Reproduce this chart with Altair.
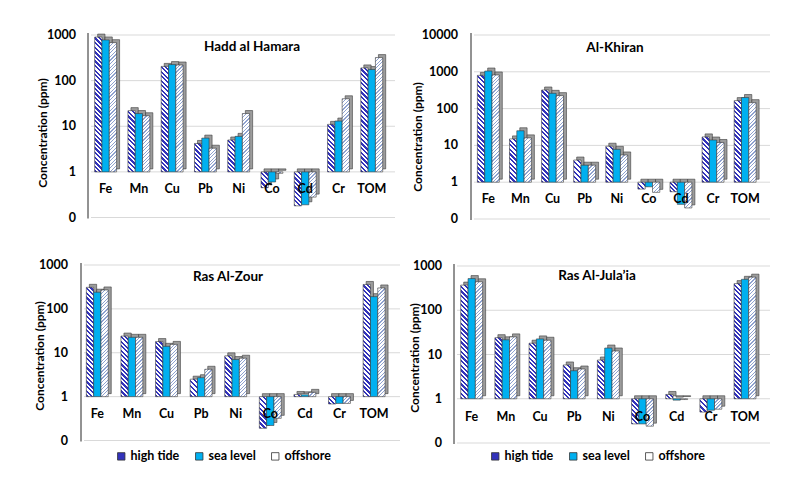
import math
import altair as alt

# ---------------- data ----------------
elements = ["Fe", "Mn", "Cu", "Pb", "Ni", "Co", "Cd", "Cr", "TOM"]
series = ["high tide", "sea level", "offshore"]

hadd_high = [900, 22, 205, 4.2, 5.0, 0.45, 0.18, 11, 190]
hadd_sea = [780, 19, 225, 5.5, 6.0, 0.60, 0.19, 13, 175]
hadd_off = [680, 17, 220, 3.3, 19, 0.93, 0.28, 40, 320]

khiran_high = [800, 15, 320, 4.0, 9.5, 0.65, 0.55, 17, 165]
khiran_sea = [1050, 25, 260, 2.9, 7.8, 0.75, 0.25, 14, 200]
khiran_off = [820, 16, 225, 2.9, 5.5, 0.53, 0.20, 12, 145]

zour_high = [310, 24, 18, 2.5, 8.5, 0.19, 1.12, 0.68, 360]
zour_sea = [240, 22.5, 14, 2.7, 7.0, 0.22, 1.10, 0.70, 190]
zour_off = [270, 22.5, 15.5, 4.2, 7.5, 0.32, 1.25, 0.70, 300]

julaia_high = [370, 24, 18, 5.8, 7.5, 0.27, 1.25, 0.50, 400]
julaia_sea = [520, 21.5, 22.5, 4.3, 14, 0.27, 0.93, 0.55, 500]
julaia_off = [440, 25, 21, 4.7, 12, 0.24, 0.96, 0.58, 560]

ticks_1000 = [0.1, 1, 10, 100, 1000]
labels_1000 = ["0", "1", "10", "100", "1000"]
ticks_10000 = [0.1, 1, 10, 100, 1000, 10000]
labels_10000 = ["0", "1", "10", "100", "1000", "10000"]

titles = ["Hadd al Hamara", "Al-Khiran", "Ras Al-Zour", "Ras Al-Jula\u2019ia"]
y_title = "Concentration (ppm)"

# ---------------- styles ----------------
FONT = "Lato"
HT = "#3333bb"
SL = "#00b0f0"
OFF = "#8fa2d0"
EDGE = "#3a3a3a"
SIDE = "#9c9c9c"
GRID = "#d9d9d9"
BW = 7.3

layout = [
    dict(ymax=1000, yr=(209.5, 27), xr=(81, 380.4), axis_x=80, grid_x2=387, xlab_y=181,
         ylab_x=68, yt=(35, 125), tp=(244, 39), legend=None),
    dict(ymax=10000, yr=(211, 27), xr=(464.3, 753.2), axis_x=463, grid_x2=762, xlab_y=191,
         ylab_x=450, yt=(410, 129), tp=(607, 40), legend=None),
    dict(ymax=1000, yr=(432.5, 257), xr=(72, 383.4), axis_x=73, grid_x2=392, xlab_y=406,
         ylab_x=60, yt=(32, 348), tp=(220, 269), legend=(107, 442)),
    dict(ymax=1000, yr=(435, 258), xr=(446.6, 754.1), axis_x=446, grid_x2=762, xlab_y=409,
         ylab_x=434, yt=(407, 350), tp=(589, 268), legend=(481, 442)),
]
panel_data = [
    (hadd_high, hadd_sea, hadd_off, ticks_1000, labels_1000),
    (khiran_high, khiran_sea, khiran_off, ticks_10000, labels_10000),
    (zour_high, zour_sea, zour_off, ticks_1000, labels_1000),
    (julaia_high, julaia_sea, julaia_off, ticks_1000, labels_1000),
]


def stripes(w, h, color, bg, period, frac, direction):
    h = max(h, 0.5)
    s = w / h
    k = (s + 1) / (s * s + 1)
    n = max(1, int(round((w + h) / period)))
    stops = []
    for i in range(n):
        a = round(i / n, 5)
        b = round((i + frac) / n, 5)
        c = round((i + 1) / n, 5)
        stops += [{"offset": a, "color": color}, {"offset": b, "color": color},
                  {"offset": b, "color": bg}, {"offset": c, "color": bg}]
    if direction == "back":
        return {"gradient": "linear", "x1": 0, "y1": 1, "x2": round(k * s, 5),
                "y2": round(1 - k, 5), "stops": stops}
    return {"gradient": "linear", "x1": 0, "y1": 0, "x2": round(k * s, 5),
            "y2": round(k, 5), "stops": stops}


def text_layer(txt, x, y, size, angle=0):
    return alt.Chart(alt.Data(values=[{"t": txt}])).mark_text(
        font=FONT, fontWeight="bold", fontSize=size, color="#000000",
        align="center", baseline="middle", angle=angle
    ).encode(x=alt.value(x), y=alt.value(y), text="t:N")


def make_panel(idx):
    cfg = layout[idx]
    high, sea, off, ticks, tlabels = panel_data[idx]
    ybot, ytop = cfg["yr"]
    x0, x1 = cfg["xr"]
    ymax = cfg["ymax"]
    dec = (ybot - ytop) / (math.log10(ymax) + 1)
    S = (x1 - x0) / len(elements)
    po2 = (S / BW - 3) / 2

    recs = []
    for j, vals in enumerate([high, sea, off]):
        for i, el in enumerate(elements):
            v = vals[i]
            h = abs(math.log10(v)) * dec
            if j == 0:
                f = stripes(BW, h, HT, "#ffffff", 4.6, 0.5, "back")
            elif j == 1:
                f = SL
            else:
                f = stripes(BW, h, OFF, "#ffffff", 3.6, 0.35, "fwd")
            recs.append({"element": el, "series": series[j], "value": v, "base": 1, "fill": f})
    bar_data = alt.Data(values=recs)
    tick_data = alt.Data(values=[{"tick": t, "label": l} for t, l in zip(ticks, tlabels)])
    el_data = alt.Data(values=[{"element": e} for e in elements])

    xscale = alt.Scale(domain=elements, range=[x0, x1], paddingInner=0, paddingOuter=0)
    yscale = alt.Scale(type="log", domain=[0.1, ymax], range=[ybot, ytop], nice=False)
    offscale = alt.Scale(domain=series, range=[0, S], paddingInner=0, paddingOuter=po2)
    sidescale = alt.Scale(domain=series, range=[3, S + 3], paddingInner=0, paddingOuter=po2)

    grid = alt.Chart(tick_data).mark_rule(color=GRID, strokeWidth=1).encode(
        y=alt.Y("tick:Q", scale=yscale, axis=None),
        x=alt.value(cfg["axis_x"] + 3), x2=alt.value(cfg["grid_x2"]))
    axis_line = alt.Chart(alt.Data(values=[{"a": 1}])).mark_rule(color="#262626", strokeWidth=1).encode(
        x=alt.value(cfg["axis_x"]), y=alt.value(ytop - 2), y2=alt.value(ybot + 1))
    side = alt.Chart(bar_data).mark_bar(fill=SIDE, stroke=EDGE, strokeWidth=0.6,
                                         yOffset=-3, y2Offset=-3).encode(
        x=alt.X("element:N", scale=xscale, axis=None),
        xOffset=alt.XOffset("series:N", scale=sidescale),
        y=alt.Y("value:Q", scale=yscale, axis=None),
        y2="base:Q")
    bars = alt.Chart(bar_data).mark_bar(stroke=EDGE, strokeWidth=0.6).encode(
        x=alt.X("element:N", scale=xscale, axis=None),
        xOffset=alt.XOffset("series:N", scale=offscale),
        y=alt.Y("value:Q", scale=yscale, axis=None),
        y2="base:Q",
        fill=alt.Fill("fill:N", scale=None, legend=None))
    xlab = alt.Chart(el_data).mark_text(font=FONT, fontWeight="bold", fontSize=12.5,
                                        color="#000000", baseline="middle").encode(
        x=alt.X("element:N", scale=xscale, axis=None),
        y=alt.value(cfg["xlab_y"]), text="element:N")
    ylab = alt.Chart(tick_data).mark_text(font=FONT, fontWeight="bold", fontSize=12.5,
                                          color="#000000", align="right", baseline="middle").encode(
        y=alt.Y("tick:Q", scale=yscale, axis=None),
        x=alt.value(cfg["ylab_x"]), text="label:N")
    ytit = text_layer(y_title, cfg["yt"][0], cfg["yt"][1], 12, angle=270)
    tit = text_layer(titles[idx], cfg["tp"][0], cfg["tp"][1], 13.5)

    layers = [grid, axis_line, side, bars, xlab, ylab, ytit, tit]
    if cfg["legend"] is not None:
        lx, ly = cfg["legend"]
        leg = alt.Chart(bar_data).mark_square(opacity=0).encode(
            color=alt.Color("series:N",
                            scale=alt.Scale(domain=series, range=[HT, SL, "#ffffff"]),
                            legend=alt.Legend(title=None, orient="none", legendX=lx, legendY=ly,
                                              direction="horizontal", symbolType="square",
                                              symbolSize=55, symbolOpacity=1,
                                              symbolStrokeColor="#333333", symbolStrokeWidth=0.8,
                                              labelFont=FONT, labelFontWeight="bold",
                                              labelFontSize=12.5, labelColor="#000000",
                                              columnPadding=13, labelOffset=3, padding=0)))
        layers.append(leg)
    return alt.layer(*layers).resolve_scale(xOffset="independent")


chart = alt.layer(*[make_panel(i) for i in range(4)]).resolve_scale(
    x="independent", y="independent", xOffset="independent", color="independent"
).resolve_legend(color="independent").properties(
    width=787, height=477, padding=0, autosize=alt.AutoSizeParams(type="none")
).configure_view(stroke=None)

chart.save("out.html", embed_options={"renderer": "svg", "actions": False})
